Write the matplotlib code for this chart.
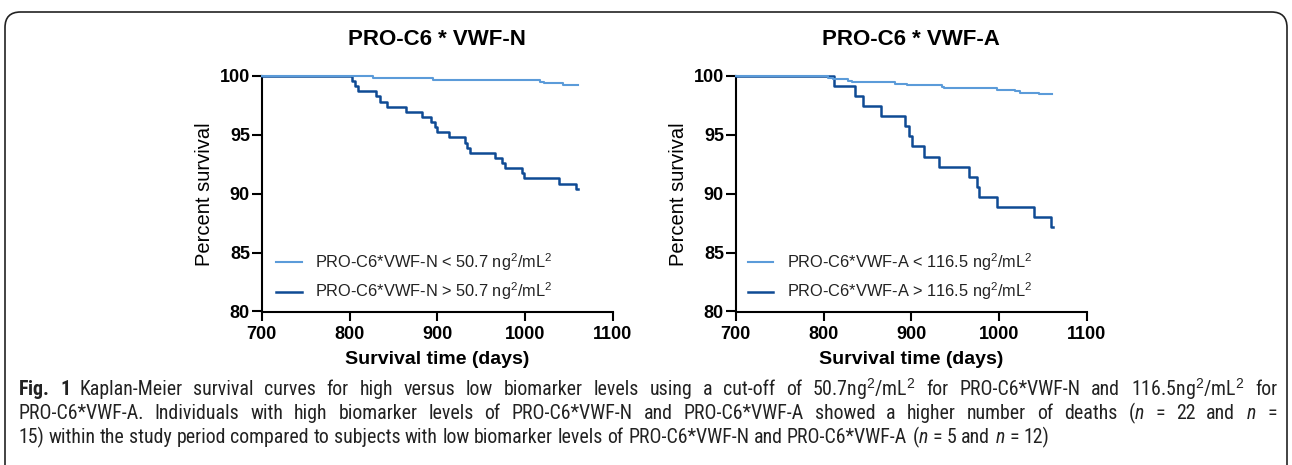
import matplotlib
matplotlib.use("Agg")
import matplotlib.pyplot as plt
from matplotlib import font_manager
from matplotlib.patches import FancyBboxPatch

# fonts
names = {f.name for f in font_manager.fontManager.ttflist}
capFont = 'Liberation Sans'
capSize = 12.6
for cand, sz in [('Roboto Condensed', 14.3), ('Liberation Sans Narrow', 14.8),
                 ('DejaVu Sans Condensed', 12.6)]:
    if cand in names:
        capFont, capSize = cand, sz
        break
plt.rcParams['font.family'] = ['Liberation Sans', 'DejaVu Sans']
plt.rcParams['mathtext.fontset'] = 'custom'
plt.rcParams['mathtext.rm'] = 'Liberation Sans'
plt.rcParams['mathtext.it'] = capFont + ':italic'
plt.rcParams['mathtext.bf'] = capFont + ':bold'

# ---- data (days, percent survival) ----
# PRO-C6 * VWF-N
vwfnLowDays = [700, 827, 895, 1017, 1022, 1043, 1060]
vwfnLowSurv = [100, 99.85, 99.66, 99.52, 99.38, 99.24, 99.24]
vwfnHighDays = [700, 803, 806, 810, 830, 835, 843, 864, 882, 893, 897, 900, 913,
                931, 934, 937, 966, 974, 977, 996, 999, 1039, 1058, 1060]
vwfnHighSurv = [100, 99.57, 99.13, 98.70, 98.26, 97.83, 97.39, 96.96, 96.52, 96.09,
                95.65, 95.22, 94.78, 94.35, 93.91, 93.48, 93.04, 92.61, 92.17, 91.74,
                91.30, 90.87, 90.43, 90.43]

# PRO-C6 * VWF-A
vwfaLowDays = [700, 805, 811, 828, 832, 881, 895, 935, 937, 997, 1018, 1024, 1045, 1060]
vwfaLowSurv = [100, 99.87, 99.74, 99.61, 99.48, 99.35, 99.22, 99.09, 98.96, 98.83,
               98.70, 98.57, 98.44, 98.44]
vwfaHighDays = [700, 812, 836, 845, 866, 893, 897, 901, 914, 932, 966, 975, 977,
                997, 1040, 1059, 1061]
vwfaHighSurv = [100, 99.15, 98.29, 97.44, 96.58, 95.73, 94.87, 94.02, 93.16, 92.31,
                91.45, 90.60, 89.74, 88.89, 88.03, 87.18, 87.18]

titles = ['PRO-C6 * VWF-N', 'PRO-C6 * VWF-A']
lowLabels = [r'PRO-C6*VWF-N < 50.7 ng$^2$/mL$^2$', r'PRO-C6*VWF-A < 116.5 ng$^2$/mL$^2$']
highLabels = [r'PRO-C6*VWF-N > 50.7 ng$^2$/mL$^2$', r'PRO-C6*VWF-A > 116.5 ng$^2$/mL$^2$']
xTicks = [700, 800, 900, 1000, 1100]
yTicks = [80, 85, 90, 95, 100]

# caption lines; the first two are justified to the full width
caption = [
    r'$\mathbf{Fig.}$ $\mathbf{1}$ Kaplan-Meier survival curves for high versus low biomarker levels using a cut-off of 50.7ng$^2$/mL$^2$ for PRO-C6*VWF-N and 116.5ng$^2$/mL$^2$ for',
    r'PRO-C6*VWF-A. Individuals with high biomarker levels of PRO-C6*VWF-N and PRO-C6*VWF-A showed a higher number of deaths ($\mathit{n}$ = 22 and $\mathit{n}$ =',
    r'15) within the study period compared to subjects with low biomarker levels of PRO-C6*VWF-N and PRO-C6*VWF-A ($\mathit{n}$ = 5 and $\mathit{n}$ = 12)',
]
justify = [True, True, False]

lightBlue = '#5b9bd9'
darkBlue = '#0f4a94'

W, H = 1292, 465
fig = plt.figure(figsize=(W / 100, H / 100), dpi=100)

# rounded frame round the figure
frame = FancyBboxPatch((5 / W, -0.1), (W - 10) / W, 1.1 - 12 / H,
                       boxstyle='round,pad=0,rounding_size=0.012',
                       transform=fig.transFigure, fill=False,
                       edgecolor='#222222', linewidth=1.2, mutation_aspect=W / H)
fig.patches.append(frame)

axLefts = [261.7, 735.7]
series = [(vwfnLowDays, vwfnLowSurv, vwfnHighDays, vwfnHighSurv),
          (vwfaLowDays, vwfaLowSurv, vwfaHighDays, vwfaHighSurv)]
legX = [0.042, 0.035]

for i in range(2):
    ax = fig.add_axes([axLefts[i] / W, 1 - 311.5 / H, 351.3 / W, 235.5 / H])
    lowD, lowS, highD, highS = series[i]
    hHigh, = ax.step(highD, highS, where='post', color=darkBlue, lw=1.8,
                     clip_on=False, zorder=3, label=highLabels[i])
    hLow, = ax.step(lowD, lowS, where='post', color=lightBlue, lw=1.5,
                    clip_on=False, zorder=4, label=lowLabels[i])
    ax.set_xlim(700, 1100)
    ax.set_ylim(80, 100)
    ax.set_xticks(xTicks)
    ax.set_yticks(yTicks)
    for s in ['top', 'right']:
        ax.spines[s].set_visible(False)
    for s in ['left', 'bottom']:
        ax.spines[s].set_linewidth(1.5)
    ax.tick_params(axis='both', width=1.5, labelsize=13, colors='black')
    ax.tick_params(axis='x', length=6.5, pad=4)
    ax.tick_params(axis='y', length=7, pad=1.5)
    for lab in ax.get_xticklabels() + ax.get_yticklabels():
        lab.set_fontweight('bold')
    ax.set_xlabel('Survival time (days)', fontsize=14, fontweight='bold', labelpad=6)
    ax.set_ylabel('Percent survival', fontsize=14.5, labelpad=4)
    ax.set_title(titles[i], fontsize=16, fontweight='bold', pad=22)
    ax.legend(handles=[hLow, hHigh], loc='center left', bbox_to_anchor=(legX[i], 0.148),
              frameon=False, fontsize=11.8, handlelength=1.55, handletextpad=0.8,
              labelspacing=0.5, borderpad=0, borderaxespad=0, labelcolor='#222222')

# caption, word by word so that lines can be justified
renderer = fig.canvas.get_renderer()
capLeft, capRight = 18, 1277
lineY = [389, 413, 437]
probe2 = fig.text(0, 0, 'a a', fontsize=capSize, family=capFont)
probe1 = fig.text(0, 0, 'a', fontsize=capSize, family=capFont)
spaceW = probe2.get_window_extent(renderer).width - 2 * probe1.get_window_extent(renderer).width
probe1.remove()
probe2.remove()
for txt, y, just in zip(caption, lineY, justify):
    words = txt.split(' ')
    objs = [fig.text(0, 1 - y / H, w, fontsize=capSize, family=[capFont, 'DejaVu Sans'],
                     va='center', ha='left', color='#222222') for w in words]
    widths = [o.get_window_extent(renderer).width for o in objs]
    if just:
        gap = (capRight - capLeft - sum(widths)) / (len(words) - 1)
    else:
        gap = spaceW
    x = capLeft
    for o, w in zip(objs, widths):
        o.set_x(x / W)
        x += w + gap

fig.savefig('out.png', dpi=100)
